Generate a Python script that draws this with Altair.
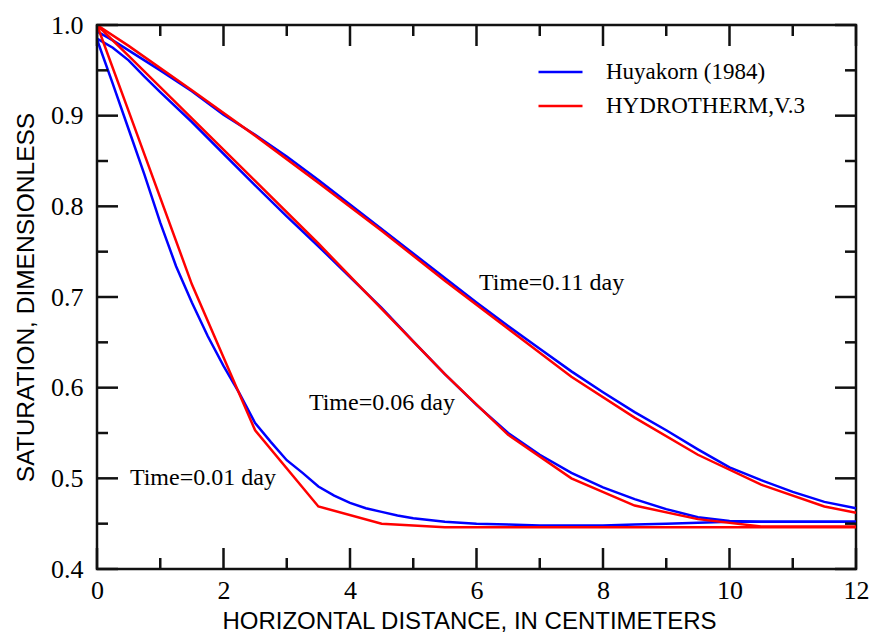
import altair as alt
import pandas as pd

# ---------------- data ----------------
models = ["Huyakorn (1984)", "HYDROTHERM,V.3"]
times = ["0.01", "0.06", "0.11"]

# HYDROTHERM (red) node values
x_red = [0, 0.5, 1.5, 2.5, 3.5, 4.5, 5.5, 6.5, 7.5, 8.5, 9.5, 10.5, 11.5, 12]
red_001 = [1.0, 0.905, 0.714, 0.553, 0.469, 0.450, 0.446, 0.446, 0.446, 0.446, 0.446, 0.446, 0.446, 0.446]
red_006 = [1.0, 0.966, 0.897, 0.828, 0.759, 0.687, 0.615, 0.548, 0.500, 0.470, 0.455, 0.447, 0.447, 0.447]
red_011 = [1.0, 0.977, 0.928, 0.878, 0.826, 0.773, 0.718, 0.665, 0.612, 0.567, 0.526, 0.493, 0.469, 0.462]

# Huyakorn (blue)
blue_001_x = [0, 0.25, 0.5, 0.75, 1.0, 1.25, 1.5, 1.75, 2.0, 2.25, 2.5, 2.75, 3.0, 3.25, 3.5, 3.75,
              4.0, 4.25, 4.5, 4.75, 5.0, 5.5, 6.0, 6.5, 7.0, 7.5, 8.0, 8.5, 9.0, 9.5, 10.0, 10.5,
              11.0, 11.5, 12.0]
blue_001_y = [0.984, 0.935, 0.885, 0.835, 0.782, 0.734, 0.694, 0.657, 0.624, 0.594, 0.561, 0.540,
              0.520, 0.506, 0.491, 0.481, 0.473, 0.467, 0.463, 0.459, 0.456, 0.452, 0.450, 0.449,
              0.448, 0.448, 0.448, 0.449, 0.450, 0.451, 0.452, 0.452, 0.452, 0.452, 0.452]

blue_006_x = [0, 0.25, 0.5, 0.75, 1.0, 1.5, 2.0, 2.5, 3.0, 3.5, 4.0, 4.5, 5.0, 5.5, 6.0, 6.5,
              7.0, 7.5, 8.0, 8.5, 9.0, 9.5, 10.0, 10.5, 11.0, 11.5, 12.0]
blue_006_y = [0.985, 0.975, 0.961, 0.943, 0.926, 0.893, 0.858, 0.823, 0.789, 0.756, 0.722, 0.688,
              0.651, 0.615, 0.581, 0.550, 0.526, 0.506, 0.490, 0.477, 0.466, 0.457, 0.453, 0.452,
              0.452, 0.452, 0.452]

blue_011_x = [0, 0.25, 0.5, 1.0, 1.5, 2.0, 2.5, 3.0, 3.5, 4.0, 4.5, 5.0, 5.5, 6.0, 6.5, 7.0,
              7.5, 8.0, 8.5, 9.0, 9.5, 10.0, 10.5, 11.0, 11.5, 12.0]
blue_011_y = [0.993, 0.983, 0.972, 0.950, 0.927, 0.901, 0.879, 0.855, 0.829, 0.802, 0.775, 0.748,
              0.721, 0.694, 0.668, 0.643, 0.618, 0.595, 0.573, 0.553, 0.532, 0.512, 0.498, 0.485,
              0.474, 0.467]

# annotations
ann_text = ["Time=0.11 day", "Time=0.06 day", "Time=0.01 day"]
ann_x = [6.04, 3.35, 0.52]
ann_y = [0.708, 0.575, 0.493]

# ticks
x_major = [0, 2, 4, 6, 8, 10, 12]
x_minor = [1, 3, 5, 7, 9, 11]
y_major = [0.4, 0.5, 0.6, 0.7, 0.8, 0.9, 1.0]
y_minor = [0.45, 0.55, 0.65, 0.75, 0.85, 0.95]

# ---------------- build tables ----------------
rows = []
for t, ys in zip(times, [red_001, red_006, red_011]):
    for xv, yv in zip(x_red, ys):
        rows.append({"x": xv, "y": yv, "model": models[1], "time": t})
red_df = pd.DataFrame(rows)

rows = []
for t, xs_, ys in zip(times, [blue_001_x, blue_006_x, blue_011_x], [blue_001_y, blue_006_y, blue_011_y]):
    for xv, yv in zip(xs_, ys):
        rows.append({"x": xv, "y": yv, "model": models[0], "time": t})
blue_df = pd.DataFrame(rows)

ann_df = pd.DataFrame({"x": ann_x, "y": ann_y, "text": ann_text})
xmaj_df = pd.DataFrame({"x": x_major})
xmin_df = pd.DataFrame({"x": x_minor})
ymaj_df = pd.DataFrame({"y": y_major})
ymin_df = pd.DataFrame({"y": y_minor})

W, H = 759, 544
MAJ, MIN = 21, 11
INK = "#111111"

xs = alt.Scale(domain=[0, 12], nice=False, zero=False)
ys = alt.Scale(domain=[0.4, 1.0], nice=False, zero=False)
cscale = alt.Scale(domain=models, range=["#0000ff", "#ff0000"])

legend = alt.Legend(
    orient="none", legendX=440, legendY=37, title=None, padding=0,
    symbolType="stroke", symbolSize=1936, symbolStrokeWidth=2.5,
    clipHeight=20, rowPadding=11, labelOffset=22, labelLimit=0,
    labelFont="Liberation Serif", labelFontSize=23, labelColor="black",
)

x_enc = alt.X(
    "x:Q", scale=xs,
    axis=alt.Axis(
        values=x_major, format="d", ticks=False, domain=False, grid=False,
        labelFont="Liberation Serif", labelFontSize=26, labelColor="black",
        labelPadding=8, labelFlush=False, labelOverlap=False,
        title="HORIZONTAL DISTANCE, IN CENTIMETERS", titleFont="Liberation Sans",
        titleFontSize=24, titleFontWeight="normal", titleColor="black",
        titleBaseline="alphabetic", titleY=59, titleX=372,
    ),
)
y_enc = alt.Y(
    "y:Q", scale=ys,
    axis=alt.Axis(
        values=y_major, format=".1f", ticks=False, domain=False, grid=False,
        labelFont="Liberation Serif", labelFontSize=26, labelColor="black",
        labelPadding=14, labelFlush=False, labelOverlap=False,
        title="SATURATION, DIMENSIONLESS", titleFont="Liberation Sans",
        titleFontSize=24.5, titleFontWeight="normal", titleColor="black",
        titleBaseline="alphabetic", titleX=-64, titleY=272,
    ),
)

blue = alt.Chart(blue_df).mark_line(strokeWidth=2.5).encode(
    x=x_enc, y=y_enc, color=alt.Color("model:N", scale=cscale, legend=legend),
    detail="time:N", order="x:Q",
)
red = alt.Chart(red_df).mark_line(strokeWidth=2.5).encode(
    x=alt.X("x:Q", scale=xs), y=alt.Y("y:Q", scale=ys),
    color=alt.Color("model:N", scale=cscale, legend=legend),
    detail="time:N", order="x:Q",
)

ann = alt.Chart(ann_df).mark_text(
    align="left", baseline="alphabetic", font="Liberation Serif", fontSize=24, color="black"
).encode(x=alt.X("x:Q", scale=xs), y=alt.Y("y:Q", scale=ys), text="text:N")


def xticks(df, length):
    bot = alt.Chart(df).mark_rule(color=INK, strokeWidth=2.5).encode(
        x=alt.X("x:Q", scale=xs), y=alt.value(H), y2=alt.value(H - length))
    top = alt.Chart(df).mark_rule(color=INK, strokeWidth=2.5).encode(
        x=alt.X("x:Q", scale=xs), y=alt.value(0), y2=alt.value(length))
    return [bot, top]


def yticks(df, length):
    left = alt.Chart(df).mark_rule(color=INK, strokeWidth=2.5).encode(
        y=alt.Y("y:Q", scale=ys), x=alt.value(0), x2=alt.value(length))
    right = alt.Chart(df).mark_rule(color=INK, strokeWidth=2.5).encode(
        y=alt.Y("y:Q", scale=ys), x=alt.value(W), x2=alt.value(W - length))
    return [left, right]


layers = [blue, red, ann] + xticks(xmaj_df, MAJ) + xticks(xmin_df, MIN) + yticks(ymaj_df, MAJ) + yticks(ymin_df, MIN)

chart = alt.layer(*layers).properties(
    width=W, height=H,
    padding={"left": 97, "top": 25, "right": 19, "bottom": 63},
    autosize=alt.AutoSizeParams(type="none"),
    background="white",
).configure_view(stroke=INK, strokeWidth=2.5)

chart.save("out.html", embed_options={"renderer": "svg", "actions": False})
